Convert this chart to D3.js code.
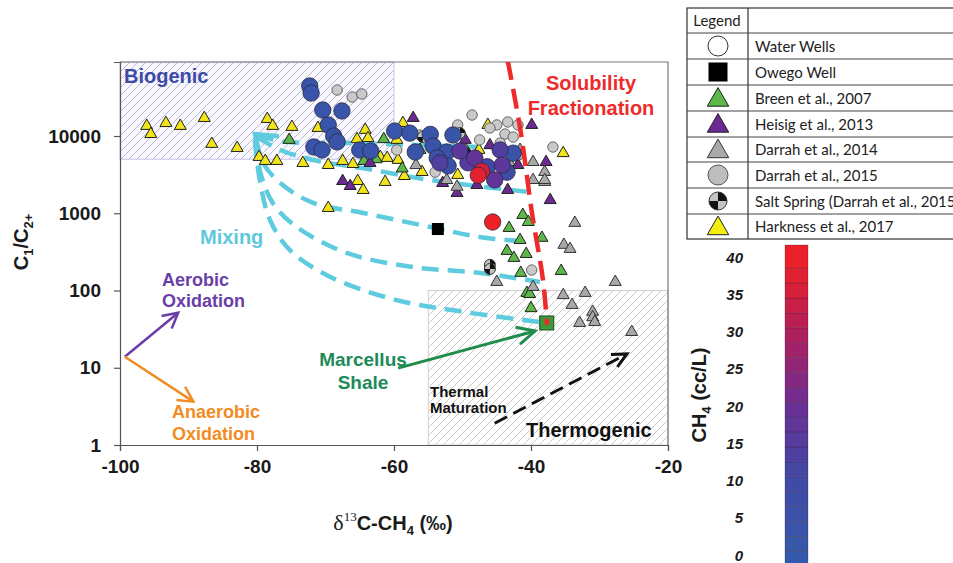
<!DOCTYPE html>
<meta charset="utf-8">
<style>
body { margin: 0; background: #fff; }
svg { font-family: Arial, "Liberation Sans", Helvetica, sans-serif; }
.axis text { font: bold 19px Arial, "Liberation Sans", sans-serif; fill: #1a1a1a; }
.axis path, .axis line { stroke: #555; stroke-width: 1.2; }
.legend text { font: 15px Lato, "Open Sans", sans-serif; fill: #222; }
.lbl { font-weight: bold; }
</style>
<svg width="953" height="563"></svg>
<script src="https://cdn.jsdelivr.net/npm/d3@7"></script>
<script>

// ---- data: [delta13C, C1/C2+] ----
var xTicks = [-100, -80, -60, -40, -20];
var yTicks = [1, 10, 100, 1000, 10000];
var cbTicks = [0, 5, 10, 15, 20, 25, 30, 35, 40];

var harkness = [[-96.1,13500],[-95.5,10600],[-93.3,14700],[-91.2,13500],[-87.7,17100],[-86.6,7900],
  [-82.9,7000],[-78.5,16600],[-77.7,13500],[-74.9,13100],[-71.1,12700],[-79.7,5350],[-78.8,4750],
  [-77.1,4750],[-73.3,4470],[-69.6,4210],[-67.5,4750],[-66.0,4340],[-64.2,12000],[-63.8,9400],
  [-65.4,9100],[-62.0,5350],[-61.0,5200],[-59.6,8900],[-58.7,14700],[-59.4,4900],[-58.5,3030],
  [-61.3,2540],[-65.3,2610],[-64.5,2000],[-69.6,1170],[-55.9,3420],[-50.7,3130],[-49.5,6600],
  [-47.6,6600],[-46.3,13900],[-35.3,6000]];

var breen = [[-41.2,950],[-40.4,770],[-43.2,645],[-41.6,450],[-38.4,480],[-43.5,325],[-42.5,264],
  [-40.7,297],[-41.5,169],[-35.6,179],[-40.6,93],[-40.2,90],[-40.0,59],[-75.3,8900],[-64.4,4750],
  [-62.6,5000],[-58.8,3800],[-61.5,9100],[-56.2,6600]];

var heisig = [[-57.2,17100],[-39.9,13900],[-37.8,4600],[-52.9,2460],[-50.8,1830],[-43.4,2000],
  [-37.2,1480],[-41.9,4200],[-63.5,4470],[-67.5,2610],[-66.4,2250],[-49.6,8900],[-46.0,7600],[-47.9,2320]];

var darrah2014 = [[-39.7,2690],[-38.0,2540],[-33.6,750],[-35.2,390],[-34.3,345],[-27.7,129],[-45.0,129],
  [-39.7,111],[-35.3,87],[-32.1,93],[-34.0,65],[-31.0,53],[-31.0,45],[-32.9,38],[-30.7,39],[-25.3,29],
  [-39.7,4600],[-38.0,3420],[-38.0,2690],[-56.8,4200],[-50.8,2200],[-43.2,4600],[-41.6,6600],[-52.3,2690]];

var darrah2015 = [[-68.3,39400],[-66.1,32000],[-64.7,35000],[-59.6,6600],[-48.6,18700],[-50.7,13900],
  [-50.5,10600],[-45.0,13900],[-43.4,15200],[-43.8,10600],[-44.5,8100],[-42.6,9700],[-41.9,13900],
  [-36.8,7200],[-39.9,184],[-56.2,10300],[-54.0,3400],[-46.0,12700],[-47.5,8900]];

var saltSpring = [[-46.0,215],[-46.0,190],[-55.8,9700],[-50.4,10900],[-49.5,6000],[-41.9,5700]];

// [delta13C, C1/C2+, CH4 cc/L]
var waterWells = [[-72.3,44400,3],[-72.1,36000,3],[-70.4,21700,3],[-67.6,21100,3],[-69.6,13900,3],
  [-68.8,10000,4],[-68.3,8400,4],[-71.7,7200,3],[-70.5,6600,3],[-65.0,6600,3],[-63.4,6400,3],
  [-59.9,11600,3],[-57.7,10900,3],[-56.9,6200,3],[-54.3,7400,4],[-53.7,5200,5],[-52.3,6200,4],
  [-52.1,4100,6],[-53.3,4500,14],[-51.4,10300,3],[-48.2,5200,18],[-47.7,3100,38],[-47.2,3500,36],
  [-46.4,4000,10],[-45.3,2700,18],[-44.2,4200,17],[-43.5,3400,8],[-42.6,6000,5],[-45.6,770,40],
  [-54.7,10500,3],[-50.4,6400,16],[-49.2,4500,15],[-44.5,6600,14]];

var owego = [[-53.6,625]];
var marcellus = [[-37.7,38]];

// mixing curves from the biogenic end member
var mixA = [[-80.0,10300],[-75.8,8400],[-66.1,8100],[-56.7,7650],[-42.0,7000]];
var mixB = [[-80.0,9700],[-76.6,6600],[-71.8,4900],[-64.5,3830],[-54.7,2690],[-40.2,1880]];
var mixC = [[-80.2,9400],[-79.1,4470],[-76.6,2460],[-71.8,1360],[-64.5,1010],[-54.7,664],[-47.5,493],[-40.2,425]];
var mixD = [[-80.2,9100],[-79.6,3630],[-77.7,1360],[-74.2,664],[-66.9,306],[-57.2,201],[-47.5,169],[-38.7,129]];
var mixE = [[-80.3,8870],[-79.6,2690],[-78.1,818],[-75.2,334],[-69.3,150],[-59.6,75],[-49.9,53],[-38.7,39]];
var mixHead = [[-78.1,7160],[-80.3,10600]];

var solubility = [[-43.4,95000],[-41.5,11300],[-39.85,1000],[-38.25,137],[-37.66,36]];

var aerobicArrow = [[-99.3,13.9],[-91.5,51.6]];
var anaerobicArrow = [[-99.3,13.9],[-89.3,3.64]];
var marcellusArrow = [[-59.4,9.9],[-39.4,29.9]];
var thermalArrow = [[-45.3,1.91],[-26.0,15.1]];

var biogenicBox = [[-100, -60], [5000, 90800]];
var thermogenicBox = [[-55, -20], [1, 100]];

var cbStops = [0, 10, 15, 20, 25, 30, 35, 40];
var cbColors = ["#3559aa", "#3f4aa5", "#553c9e", "#6b2f94", "#8e2679", "#b11f5a", "#d31f3d", "#ee2127"];

var legendLabels = ["Water Wells", "Owego Well", "Breen et al., 2007", "Heisig et al., 2013",
  "Darrah et al., 2014", "Darrah et al., 2015", "Salt Spring (Darrah et al., 2015)", "Harkness et al., 2017"];

// ---- scales ----
var svg = d3.select("svg");
var x = d3.scaleLinear().domain([-100, -20]).range([120, 668]);
var y = d3.scaleLog().domain([1, 90800]).range([445, 62]);
var color = d3.scaleLinear().domain(cbStops).range(cbColors).clamp(true);
var cb = d3.scaleLinear().domain([0, 40]).range([555, 257]);

var defs = svg.append("defs");
function hatch(id, stroke, bg) {
  var p = defs.append("pattern").attr("id", id).attr("patternUnits", "userSpaceOnUse")
      .attr("width", 8).attr("height", 8);
  p.append("rect").attr("width", 8).attr("height", 8).attr("fill", bg);
  p.append("path").attr("d", "M-2,2L2,-2M0,8L8,0M6,10L10,6")
      .attr("stroke", stroke).attr("stroke-width", 0.9);
}
hatch("hBio", "#b3b3dd", "#f7f7fc");
hatch("hTherm", "#c4c4c4", "#fff");
defs.append("clipPath").attr("id", "plotClip").append("rect")
    .attr("x", 120).attr("y", 62).attr("width", 548).attr("height", 383);

function box(b, fill, stroke) {
  svg.append("rect")
      .attr("x", x(b[0][0])).attr("y", y(b[1][1]))
      .attr("width", x(b[0][1]) - x(b[0][0]))
      .attr("height", y(b[1][0]) - y(b[1][1]))
      .attr("fill", fill).attr("stroke", stroke).attr("stroke-width", 1);
}
box(biogenicBox, "url(#hBio)", "#c4c4ea");
box(thermogenicBox, "url(#hTherm)", "#cfcfcf");

// frame
svg.append("path").attr("d", "M120,62H668V445").attr("fill", "none").attr("stroke", "#777").attr("stroke-width", 1.2);

svg.append("g").attr("class", "axis").attr("transform", "translate(0,445)")
    .call(d3.axisBottom(x).tickValues(xTicks).tickSize(6).tickPadding(9).tickFormat(function(d) { return String(d); }));
svg.append("g").attr("class", "axis").attr("transform", "translate(120,0)")
    .call(d3.axisLeft(y).tickValues(yTicks).tickSize(6).tickPadding(13).tickFormat(function(d) { return String(d); }));

// axis titles
var yt = svg.append("text").attr("class", "lbl").attr("transform", "translate(28,242) rotate(-90)")
    .attr("text-anchor", "middle").attr("font-size", 20).attr("fill", "#1a1a1a");
yt.append("tspan").text("C");
yt.append("tspan").attr("font-size", 13).attr("dy", 5).text("1");
yt.append("tspan").attr("dy", -5).text("/C");
yt.append("tspan").attr("font-size", 13).attr("dy", 5).text("2+");

var xt = svg.append("text").attr("x", 393).attr("y", 530).attr("text-anchor", "middle")
    .attr("font-size", 20).attr("fill", "#1a1a1a");
xt.append("tspan").attr("font-family", "'Liberation Serif', serif").attr("font-size", 22).text("δ");
xt.append("tspan").attr("font-size", 13).attr("dy", -9).attr("font-family", "'Liberation Serif', serif").text("13");
xt.append("tspan").attr("dy", 9).attr("font-weight", "bold").text("C-CH");
xt.append("tspan").attr("dy", 5).attr("font-size", 13).attr("font-weight", "bold").text("4");
xt.append("tspan").attr("dy", -5).attr("font-weight", "bold").text(" (‰)");

// mixing curves
var curve = d3.line().x(function(d) { return x(d[0]); }).y(function(d) { return y(d[1]); })
    .curve(d3.curveCatmullRom.alpha(0.5));
var mixG = svg.append("g").attr("fill", "none").attr("stroke", "#5ecbde").attr("stroke-width", 4.5);
[mixA, mixB, mixC, mixD, mixE].forEach(function(m) {
  mixG.append("path").attr("d", curve(m)).attr("stroke-dasharray", "17,9");
});

function arrow(g, pts, col, w, dash, head, ang, headOnly) {
  var p0 = [x(pts[0][0]), y(pts[0][1])], p1 = [x(pts[1][0]), y(pts[1][1])];
  if (!headOnly) {
    g.append("line").attr("x1", p0[0]).attr("y1", p0[1]).attr("x2", p1[0]).attr("y2", p1[1])
        .attr("stroke", col).attr("stroke-width", w).attr("stroke-dasharray", dash);
  }
  var a = Math.atan2(p1[1] - p0[1], p1[0] - p0[0]);
  var r = ang * Math.PI / 180;
  var h1 = [p1[0] - head * Math.cos(a - r), p1[1] - head * Math.sin(a - r)];
  var h2 = [p1[0] - head * Math.cos(a + r), p1[1] - head * Math.sin(a + r)];
  g.append("path").attr("d", "M" + h1 + "L" + p1 + "L" + h2)
      .attr("fill", "none").attr("stroke", col).attr("stroke-width", w).attr("stroke-linejoin", "miter");
}
arrow(svg, mixHead, "#5ecbde", 4.5, null, 24, 36, true);

// points
var tri = d3.symbol().type(d3.symbolTriangle).size(62);
function triangles(data, fill, stroke) {
  svg.append("g").selectAll("path").data(data).enter().append("path")
      .attr("d", tri)
      .attr("transform", function(d) { return "translate(" + x(d[0]) + "," + y(d[1]) + ")"; })
      .attr("fill", fill).attr("stroke", stroke).attr("stroke-width", 1);
}
triangles(harkness, "#f1e41b", "#222");
triangles(breen, "#5cb848", "#222");
triangles(heisig, "#6a2a92", "#222");
triangles(darrah2014, "#a9a9a9", "#333");

svg.append("g").selectAll("circle").data(darrah2015).enter().append("circle")
    .attr("cx", function(d) { return x(d[0]); }).attr("cy", function(d) { return y(d[1]); })
    .attr("r", 5.2).attr("fill", "#c9c9c9").attr("stroke", "#666").attr("stroke-width", 1);

var quad = d3.arc().innerRadius(0);
function saltSymbol(g, r) {
  [[0, 0.5, "#111"], [0.5, 1, "#c4c4c4"], [1, 1.5, "#111"], [1.5, 2, "#c4c4c4"]].forEach(function(q) {
    g.append("path").attr("d", quad.outerRadius(r)({startAngle: q[0] * Math.PI, endAngle: q[1] * Math.PI}))
        .attr("fill", q[2]);
  });
  g.append("circle").attr("r", r).attr("fill", "none").attr("stroke", "#333").attr("stroke-width", 1);
}
saltSpring.forEach(function(d) {
  saltSymbol(svg.append("g").attr("transform", "translate(" + x(d[0]) + "," + y(d[1]) + ")"), 5.5);
});

svg.append("g").selectAll("circle")
    .data(waterWells.slice().sort(function(a, b) { return a[2] - b[2]; }))
  .enter().append("circle")
    .attr("cx", function(d) { return x(d[0]); }).attr("cy", function(d) { return y(d[1]); })
    .attr("r", 8.2).attr("fill", function(d) { return color(d[2]); })
    .attr("stroke", "#2a2a44").attr("stroke-width", 0.8);

svg.selectAll(".owego").data(owego).enter().append("rect")
    .attr("x", function(d) { return x(d[0]) - 6; }).attr("y", function(d) { return y(d[1]) - 6; })
    .attr("width", 12).attr("height", 12).attr("fill", "#000");
svg.selectAll(".marc").data(marcellus).enter().append("rect")
    .attr("x", function(d) { return x(d[0]) - 7; }).attr("y", function(d) { return y(d[1]) - 7; })
    .attr("width", 14).attr("height", 14).attr("fill", "#3c9a3c").attr("stroke", "#1d4d1d").attr("stroke-width", 1);

// solubility fractionation line
svg.append("path").attr("clip-path", "url(#plotClip)").attr("d", curve(solubility))
    .attr("fill", "none").attr("stroke", "#ee2a2a").attr("stroke-width", 4.5).attr("stroke-dasharray", "20,9");

// process arrows
arrow(svg, aerobicArrow, "#6a3ea8", 2.5, null, 17, 28);
arrow(svg, anaerobicArrow, "#f28c22", 2.5, null, 17, 28);
arrow(svg, marcellusArrow, "#1f8c4c", 3, null, 20, 26);
arrow(svg, thermalArrow, "#111", 3, "14,7", 16, 26);

// annotations
function label(lines, px, py, size, fill, anchor, lh) {
  var t = svg.append("text").attr("class", "lbl").attr("font-size", size).attr("fill", fill)
      .attr("text-anchor", anchor || "start");
  lines.forEach(function(s, i) { t.append("tspan").attr("x", px).attr("y", py + i * (lh || 0)).text(s); });
}
label(["Biogenic"], 124, 83, 20, "#3d4ba6");
label(["Solubility", "Fractionation"], 591, 90, 20, "#ee2a2a", "middle", 25);
label(["Mixing"], 200, 244, 20, "#5ec8dc");
label(["Aerobic", "Oxidation"], 162, 286, 18, "#6a3ea8", "start", 21);
label(["Anaerobic", "Oxidation"], 172, 418, 18, "#f28c22", "start", 22);
label(["Marcellus", "Shale"], 363, 366, 19, "#1e8a5a", "middle", 23);
label(["Thermal", "Maturation"], 430, 397, 15, "#111", "start", 16);
label(["Thermogenic"], 526, 437, 20, "#111");

// colour bar
var segs = d3.range(-1.5, 40, 2);
svg.append("g").selectAll("rect").data(segs).enter().append("rect")
    .attr("x", 785).attr("width", 23)
    .attr("y", function(d) { return d >= 38.5 ? 245 : cb(d + 2); })
    .attr("height", function(d) { return (d >= 38.5 ? cb(d) - 245 : cb(d) - cb(d + 2)); })
    .attr("fill", function(d) { return color(d + 1); })
    .attr("stroke", "rgba(40,20,40,0.35)").attr("stroke-width", 0.7);
svg.append("g").selectAll("text").data(cbTicks).enter().append("text")
    .attr("x", 743).attr("y", function(d) { return cb(d) + 5.5; })
    .attr("text-anchor", "end").attr("font-size", 15).attr("font-weight", "bold")
    .attr("font-style", "italic").attr("fill", "#1a1a1a").text(function(d) { return d; });
var ct = svg.append("text").attr("class", "lbl").attr("transform", "translate(706,395) rotate(-90)")
    .attr("text-anchor", "middle").attr("font-size", 20).attr("fill", "#1a1a1a");
ct.append("tspan").text("CH");
ct.append("tspan").attr("font-size", 13).attr("dy", 5).text("4");
ct.append("tspan").attr("dy", -5).text(" (cc/L)");

// legend table
var lg = svg.append("g").attr("class", "legend");
var rowY = [8, 33, 59, 85, 111, 137, 162, 188, 214, 239];
lg.append("rect").attr("x", 687).attr("y", 8).attr("width", 300).attr("height", 231)
    .attr("fill", "#fff").attr("stroke", "#333").attr("stroke-width", 1.2);
lg.append("line").attr("x1", 748).attr("x2", 748).attr("y1", 8).attr("y2", 239).attr("stroke", "#333").attr("stroke-width", 1.2);
rowY.slice(1, -1).forEach(function(r) {
  lg.append("line").attr("x1", 687).attr("x2", 953).attr("y1", r).attr("y2", r).attr("stroke", "#444").attr("stroke-width", 1);
});
lg.append("text").attr("x", 717).attr("y", 26).attr("text-anchor", "middle").text("Legend");
var bigTri = d3.symbol().type(d3.symbolTriangle).size(200);
legendLabels.forEach(function(s, i) {
  var cy = (rowY[i + 1] + rowY[i + 2]) / 2;
  lg.append("text").attr("x", 755).attr("y", cy + 5.5).text(s);
  var g = lg.append("g").attr("transform", "translate(718," + cy + ")");
  if (i === 0) g.append("circle").attr("r", 10).attr("fill", "#fff").attr("stroke", "#333");
  if (i === 1) g.append("rect").attr("x", -9.5).attr("y", -9.5).attr("width", 19).attr("height", 19).attr("fill", "#000");
  if (i === 2) g.append("path").attr("d", bigTri).attr("transform", "translate(0,2)").attr("fill", "#5cb848").attr("stroke", "#222");
  if (i === 3) g.append("path").attr("d", bigTri).attr("transform", "translate(0,2)").attr("fill", "#6a2a92").attr("stroke", "#222");
  if (i === 4) g.append("path").attr("d", bigTri).attr("transform", "translate(0,2)").attr("fill", "#a9a9a9").attr("stroke", "#333");
  if (i === 5) g.append("circle").attr("r", 10).attr("fill", "#bdbdbd").attr("stroke", "#555");
  if (i === 6) saltSymbol(g, 9);
  if (i === 7) g.append("path").attr("d", bigTri).attr("transform", "translate(0,2)").attr("fill", "#f5ec10").attr("stroke", "#222");
});

</script>
